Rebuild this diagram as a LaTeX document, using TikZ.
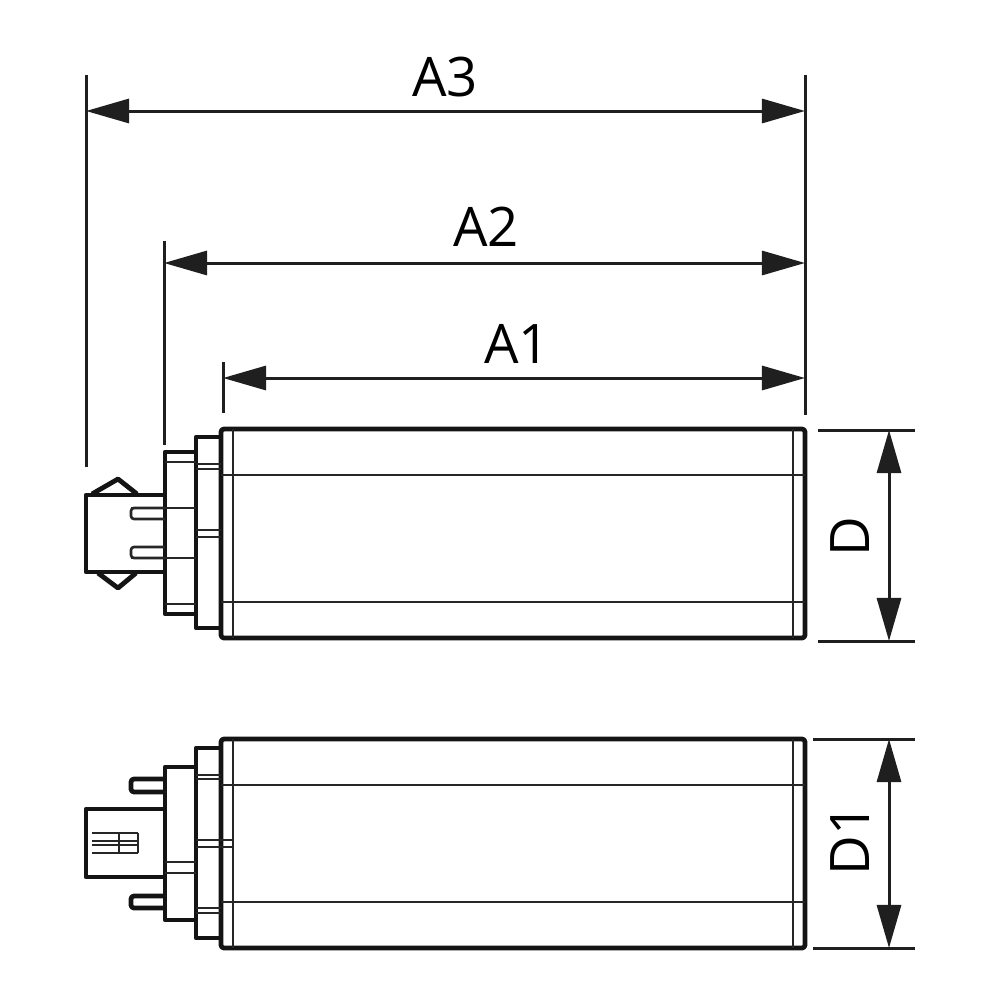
\documentclass[tikz,border=0pt]{standalone}
\usepackage{fontspec}
\setmainfont{Open Sans}
\usetikzlibrary{arrows.meta}
\begin{document}
\begin{tikzpicture}[
	x=0.01cm, y=-0.01cm,
	outline/.style={line width=0.048cm, draw=black!92, line join=round},
	detail/.style={line width=0.026cm, draw=black!85},
	extline/.style={line width=0.03cm, draw=black!88},
	dimline/.style={line width=0.03cm, draw=black!88, {Triangle[length=0.43cm,width=0.24cm]}-{Triangle[length=0.43cm,width=0.24cm]}},
	dimlabel/.style={font=\fontsize{15.5}{17}\selectfont, inner sep=0pt}]
\useasboundingbox (0,0) rectangle (1000,1000);

% dimension end points
\coordinate (a3l) at (86,111);
\coordinate (a3r) at (805,111);
\coordinate (a2l) at (164,263);
\coordinate (a2r) at (805,263);
\coordinate (a1l) at (223,378);
\coordinate (a1r) at (805,378);
\coordinate (dt) at (889,430);
\coordinate (db) at (889,641);
\coordinate (d1t) at (889,739);
\coordinate (d1b) at (889,948);

% extension lines
\draw[extline] (86,75) -- (86,467);
\draw[extline] (805,75) -- (805,415);
\draw[extline] (164,241) -- (164,445);
\draw[extline] (223,362) -- (223,413);
\draw[extline] (818,430) -- (915,430);
\draw[extline] (818,641) -- (915,641);
\draw[extline] (813,739) -- (915,739);
\draw[extline] (813,948) -- (915,948);

% dimensions
\draw[dimline] (a3l) -- (a3r);
\draw[dimline] (a2l) -- (a2r);
\draw[dimline] (a1l) -- (a1r);
\draw[dimline] (dt) -- (db);
\draw[dimline] (d1t) -- (d1b);
\node[dimlabel] (labela3) at (445,77) {A3};
\node[dimlabel] (labela2) at (486,227) {A2};
\node[dimlabel] (labela1) at (517,344) {A1};
\node[dimlabel,rotate=90] (labeld) at (850,537) {D};
\node[dimlabel,rotate=90] (labeld1) at (850,840) {D1};

% lamp bodies
\foreach \y/\l in {0/602,310/902} {
  \draw[outline,rounded corners=0.03cm] (221,429+\y) rectangle (805,638+\y);
  \draw[detail] (233,429+\y) -- (233,638+\y);
  \draw[detail] (793,429+\y) -- (793,638+\y);
  \draw[detail] (221,475+\y) -- (805,475+\y);
  \draw[detail] (221,\l) -- (805,\l);
}

% upper view, cap
\draw[outline] (221,437) -- (196,437) -- (196,628) -- (221,628);
\draw[detail] (196,464) -- (221,464);
\draw[detail] (196,469) -- (221,469);
\draw[detail] (196,530) -- (221,530);
\draw[detail] (196,537) -- (221,537);
\draw[outline] (196,452) -- (165,452) -- (165,614) -- (196,614);
\draw[detail] (165,462) -- (196,462);
\draw[detail] (165,604) -- (196,604);
\draw[detail] (131,508) -- (196,508);
\draw[detail] (131,558) -- (196,558);
\draw[detail,rounded corners=0.03cm] (165,508) -- (131,508) -- (131,519) -- (165,519);
\draw[detail,rounded corners=0.03cm] (165,547) -- (131,547) -- (131,558) -- (165,558);
\draw[outline] (165,495) -- (86,495) -- (86,572) -- (165,572);
\draw[outline] (92,494) -- (118,479) -- (137,494);
\draw[outline] (98,573) -- (118,588) -- (136,573);

% lower view, cap
\draw[outline] (221,748) -- (196,748) -- (196,938) -- (221,938);
\draw[detail] (196,775) -- (221,775);
\draw[detail] (196,779) -- (221,779);
\draw[detail] (196,840) -- (233,840);
\draw[detail] (196,847) -- (233,847);
\draw[detail] (196,908) -- (221,908);
\draw[detail] (196,913) -- (221,913);
\draw[outline] (196,767) -- (165,767) -- (165,920) -- (196,920);
\draw[detail] (165,862) -- (196,862);
\draw[detail] (165,873) -- (196,873);
\draw[outline,rounded corners=0.03cm] (165,779) -- (131,779) -- (131,792) -- (165,792);
\draw[outline,rounded corners=0.03cm] (165,896) -- (131,896) -- (131,908) -- (165,908);
\draw[outline] (165,809) -- (86,809) -- (86,877) -- (165,877);
\foreach \y in {833,841,845,853} {
  \draw[detail] (92,\y) -- (138,\y);
}
\draw[detail] (119,833) -- (119,853);
\draw[detail] (138,833) -- (138,853);
\end{tikzpicture}
\end{document}
